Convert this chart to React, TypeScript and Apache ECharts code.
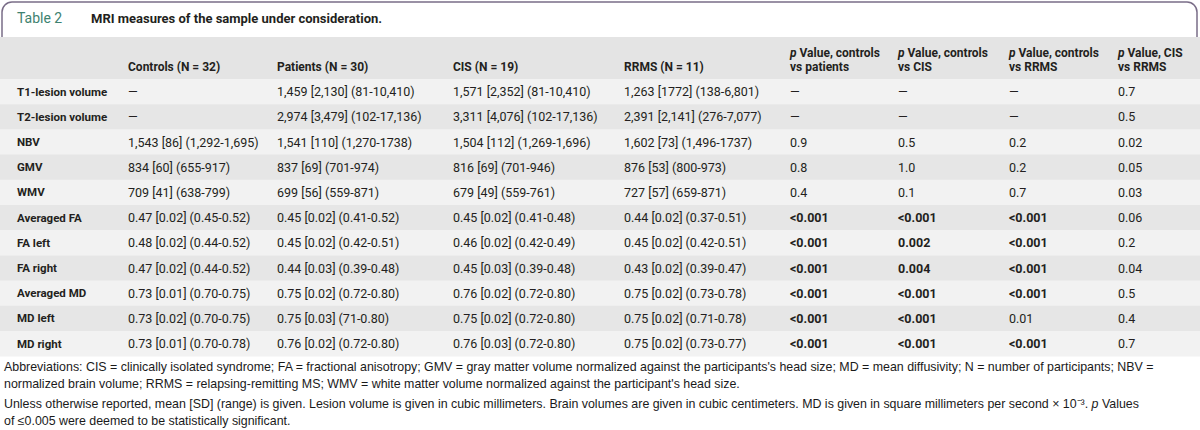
import React, { useEffect, useRef } from "react";
import * as echarts from "echarts";

const tableLabel = "Table 2";
const caption = "MRI measures of the sample under consideration.";

const columnHeaders = [
  "Controls (N = 32)",
  "Patients (N = 30)",
  "CIS (N = 19)",
  "RRMS (N = 11)",
];
const pHeaders = [
  ["{i|p} Value, controls", "vs patients"],
  ["{i|p} Value, controls", "vs CIS"],
  ["{i|p} Value, controls", "vs RRMS"],
  ["{i|p} Value, CIS", "vs RRMS"],
];

const rowLabels = [
  "T1-lesion volume",
  "T2-lesion volume",
  "NBV",
  "GMV",
  "WMV",
  "Averaged FA",
  "FA left",
  "FA right",
  "Averaged MD",
  "MD left",
  "MD right",
];

const controls = [
  "—",
  "—",
  "1,543 [86] (1,292-1,695)",
  "834 [60] (655-917)",
  "709 [41] (638-799)",
  "0.47 [0.02] (0.45-0.52)",
  "0.48 [0.02] (0.44-0.52)",
  "0.47 [0.02] (0.44-0.52)",
  "0.73 [0.01] (0.70-0.75)",
  "0.73 [0.02] (0.70-0.75)",
  "0.73 [0.01] (0.70-0.78)",
];
const patients = [
  "1,459 [2,130] (81-10,410)",
  "2,974 [3,479] (102-17,136)",
  "1,541 [110] (1,270-1738)",
  "837 [69] (701-974)",
  "699 [56] (559-871)",
  "0.45 [0.02] (0.41-0.52)",
  "0.45 [0.02] (0.42-0.51)",
  "0.44 [0.03] (0.39-0.48)",
  "0.75 [0.02] (0.72-0.80)",
  "0.75 [0.03] (71-0.80)",
  "0.76 [0.02] (0.72-0.80)",
];
const cis = [
  "1,571 [2,352] (81-10,410)",
  "3,311 [4,076] (102-17,136)",
  "1,504 [112] (1,269-1,696)",
  "816 [69] (701-946)",
  "679 [49] (559-761)",
  "0.45 [0.02] (0.41-0.48)",
  "0.46 [0.02] (0.42-0.49)",
  "0.45 [0.03] (0.39-0.48)",
  "0.76 [0.02] (0.72-0.80)",
  "0.75 [0.02] (0.72-0.80)",
  "0.76 [0.03] (0.72-0.80)",
];
const rrms = [
  "1,263 [1772] (138-6,801)",
  "2,391 [2,141] (276-7,077)",
  "1,602 [73] (1,496-1737)",
  "876 [53] (800-973)",
  "727 [57] (659-871)",
  "0.44 [0.02] (0.37-0.51)",
  "0.45 [0.02] (0.42-0.51)",
  "0.43 [0.02] (0.39-0.47)",
  "0.75 [0.02] (0.73-0.78)",
  "0.75 [0.02] (0.71-0.78)",
  "0.75 [0.02] (0.73-0.77)",
];
const pCtrlPat = ["—", "—", "0.9", "0.8", "0.4", "<0.001", "<0.001", "<0.001", "<0.001", "<0.001", "<0.001"];
const pCtrlCis = ["—", "—", "0.5", "1.0", "0.1", "<0.001", "0.002", "0.004", "<0.001", "<0.001", "<0.001"];
const pCtrlRrms = ["—", "—", "0.2", "0.2", "0.7", "<0.001", "<0.001", "<0.001", "<0.001", "0.01", "<0.001"];
const pCisRrms = ["0.7", "0.5", "0.02", "0.05", "0.03", "0.06", "0.2", "0.04", "0.5", "0.4", "0.7"];

const footnotes = [
  "Abbreviations: CIS = clinically isolated syndrome; FA = fractional anisotropy; GMV = gray matter volume normalized against the participants's head size; MD = mean diffusivity; N = number of participants; NBV =",
  "normalized brain volume; RRMS = relapsing-remitting MS; WMV = white matter volume normalized against the participant's head size.",
  "Unless otherwise reported, mean [SD] (range) is given. Lesion volume is given in cubic millimeters. Brain volumes are given in cubic centimeters. MD is given in square millimeters per second × 10⁻³. {i|p} Values",
  "of ≤0.005 were deemed to be statistically significant.",
];

const SIG = 0.005;
const isSignificant = (v: string) => {
  if (v.startsWith("<")) return true;
  const n = parseFloat(v);
  return !isNaN(n) && n <= SIG;
};

export default function App() {
  const ref = useRef<HTMLDivElement>(null);
  useEffect(() => {
    if (!ref.current) return;
    const chart = echarts.init(ref.current, null, { renderer: "svg" });
    const FONT = "Roboto, 'Liberation Sans', sans-serif";
    const NOTE_FONT = "'Liberation Sans', Arial, sans-serif";
    const TXT = "#231f20";
    const rowTop = 79;
    const rowH = 25.2;
    const labelX = 17;
    const valueX = [128, 277, 453, 624];
    const pX = [790, 898, 1009, 1118];
    const els: any[] = [];

    // title box
    els.push({
      type: "rect",
      shape: { x: 2, y: 2, width: 1195, height: 36, r: [10, 10, 0, 0] },
      style: { fill: "#ffffff", stroke: "#7a6d88", lineWidth: 1.5 },
    });
    // header band
    els.push({
      type: "rect",
      shape: { x: 0, y: 37, width: 1200, height: rowTop - 37 },
      style: { fill: "#e4e4e4" },
    });
    // rows
    rowLabels.forEach((_, i) => {
      els.push({
        type: "rect",
        shape: { x: 0, y: rowTop + i * rowH, width: 1200, height: rowH + 0.3 },
        style: { fill: i % 2 === 0 ? "#f2f2f2" : "#e6e6e6" },
      });
    });

    els.push({
      type: "text",
      x: 17,
      y: 18,
      style: { text: tableLabel, fill: "#3e8270", fontSize: 14, fontFamily: FONT, verticalAlign: "middle" },
    });
    els.push({
      type: "text",
      x: 91,
      y: 18,
      style: { text: caption, fill: TXT, fontSize: 13, fontWeight: "bold", fontFamily: FONT, verticalAlign: "middle" },
    });

    columnHeaders.forEach((h, j) => {
      els.push({
        type: "text",
        x: valueX[j],
        y: 67,
        style: { text: h, fill: TXT, fontSize: 12, fontWeight: "bold", fontFamily: FONT, verticalAlign: "middle" },
      });
    });
    pHeaders.forEach((lines, j) => {
      lines.forEach((l, k) => {
        els.push({
          type: "text",
          x: pX[j],
          y: 53 + k * 14,
          style: {
            text: l,
            fill: TXT,
            fontSize: 12,
            fontWeight: "bold",
            fontFamily: FONT,
            verticalAlign: "middle",
            rich: { i: { fontStyle: "italic", fontWeight: "bold", fontSize: 12, fontFamily: FONT, fill: TXT } },
          },
        });
      });
    });

    const valueCols = [controls, patients, cis, rrms];
    const pCols = [pCtrlPat, pCtrlCis, pCtrlRrms, pCisRrms];
    rowLabels.forEach((lab, i) => {
      const cy = rowTop + i * rowH + rowH / 2;
      els.push({
        type: "text",
        x: labelX,
        y: cy,
        style: { text: lab, fill: TXT, fontSize: 11.5, fontWeight: "bold", fontFamily: FONT, verticalAlign: "middle" },
      });
      valueCols.forEach((col, j) => {
        els.push({
          type: "text",
          x: valueX[j],
          y: cy,
          style: { text: col[i], fill: TXT, fontSize: 12.5, fontFamily: FONT, verticalAlign: "middle" },
        });
      });
      pCols.forEach((col, j) => {
        const v = col[i];
        els.push({
          type: "text",
          x: pX[j],
          y: cy,
          style: {
            text: v,
            fill: TXT,
            fontSize: 12.5,
            fontWeight: isSignificant(v) ? "bold" : "normal",
            fontFamily: FONT,
            verticalAlign: "middle",
          },
        });
      });
    });

    const noteY = [367, 384, 404, 421];
    footnotes.forEach((t, k) => {
      els.push({
        type: "text",
        x: 4,
        y: noteY[k],
        style: {
          text: t,
          fill: "#1a1a1a",
          fontSize: 12.4,
          fontFamily: NOTE_FONT,
          verticalAlign: "middle",
          rich: { i: { fontStyle: "italic", fontSize: 12.4, fontFamily: NOTE_FONT, fill: "#1a1a1a" } },
        },
      });
    });

    chart.setOption({ animation: false, graphic: { elements: els } });
    return () => chart.dispose();
  }, []);
  return (
    <div
      ref={ref}
      style={{ position: "absolute", left: 0, top: 0, width: 1200, height: 430, background: "#ffffff" }}
    />
  );
}
